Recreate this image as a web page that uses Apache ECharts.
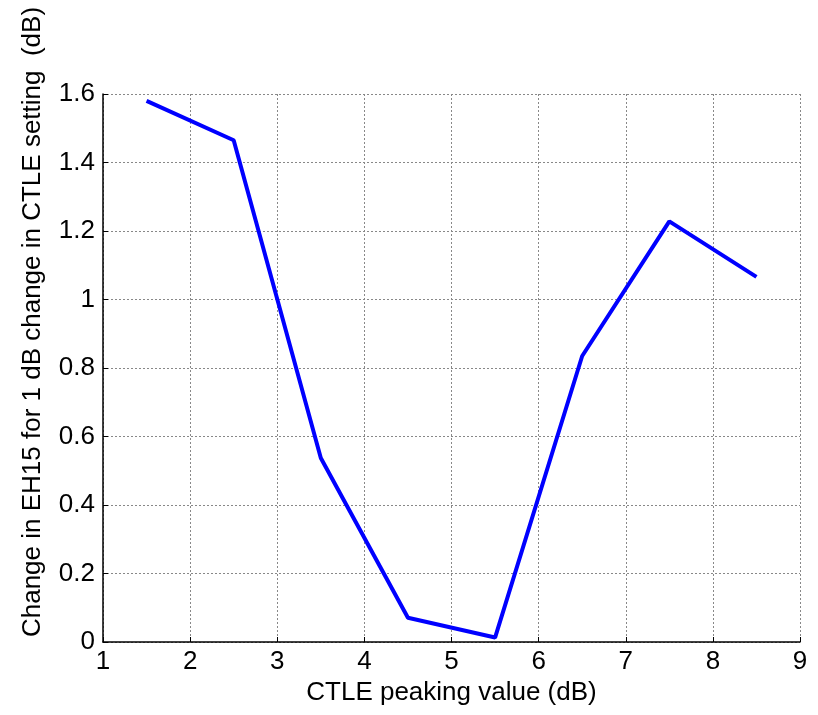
<!DOCTYPE html>
<html><head><meta charset="utf-8">
<script src="https://cdn.jsdelivr.net/npm/echarts@6/dist/echarts.min.js"></script>
<style>html,body{margin:0;padding:0;background:#fff}#c{width:818px;height:715px}</style>
</head><body><div id="c"></div>
<script>
const xValues = [1.5, 2.5, 3.5, 4.5, 5.5, 6.5, 7.5, 8.5];
const yValues = [1.58, 1.465, 0.537, 0.071, 0.013, 0.835, 1.228, 1.066];
const xTicks = [1, 2, 3, 4, 5, 6, 7, 8, 9];
const yTicks = [0, 0.2, 0.4, 0.6, 0.8, 1, 1.2, 1.4, 1.6];

const chart = echarts.init(document.getElementById('c'));
const font = 'Liberation Sans, Arial, sans-serif';
chart.setOption({
  animation: false,
  grid: {left: 103, right: 18, top: 94, bottom: 73, containLabel: false},
  xAxis: {
    type: 'value', min: 1, max: 9, interval: 1,
    name: 'CTLE peaking value (dB)', nameLocation: 'middle', nameGap: 29,
    nameTextStyle: {fontFamily: font, fontSize: 26, color: '#000'},
    axisLine: {show: true, lineStyle: {color: '#000', width: 1.5}},
    axisTick: {show: true, inside: true, length: 5, lineStyle: {color: '#000'}},
    axisLabel: {fontFamily: font, fontSize: 26, color: '#000', margin: 7,
      formatter: v => xTicks.includes(v) ? String(v) : ''},
    splitLine: {show: true, lineStyle: {color: '#888', type: [2, 2], width: 1}}
  },
  yAxis: {
    type: 'value', min: 0, max: 1.6, interval: 0.2,
    name: 'Change in EH15 for 1 dB change in CTLE setting  (dB)', nameLocation: 'middle', nameGap: 57,
    nameTextStyle: {fontFamily: font, fontSize: 26, color: '#000', padding: [0, 0, 0, 92]},
    axisLine: {show: true, lineStyle: {color: '#000', width: 1.5}},
    axisTick: {show: true, inside: true, length: 5, lineStyle: {color: '#000'}},
    axisLabel: {fontFamily: font, fontSize: 26, color: '#000', margin: 8,
      formatter: v => { const r = Math.round(v*10)/10; return yTicks.includes(r) ? String(r) : ''; }},
    splitLine: {show: true, lineStyle: {color: '#888', type: [2, 2], width: 1}}
  },
  series: [{
    type: 'line', data: xValues.map((x, i) => [x, yValues[i]]),
    showSymbol: false, symbol: 'none',
    lineStyle: {color: '#0000ff', width: 4}
  }]
});
</script></body></html>
